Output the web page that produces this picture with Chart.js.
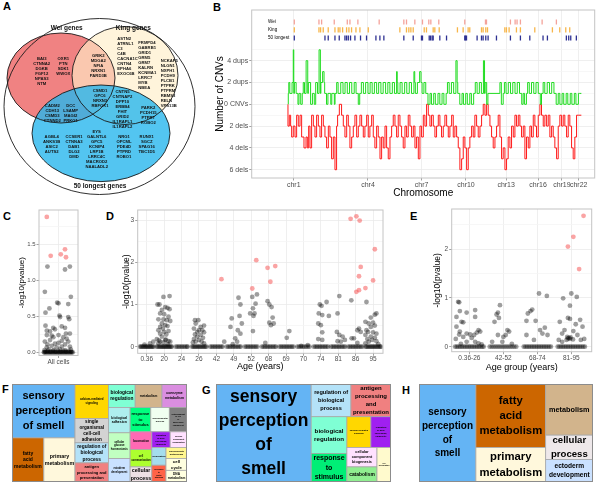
<!DOCTYPE html>
<html>
<head>
<meta charset="utf-8">
<script src="https://cdn.jsdelivr.net/npm/chart.js@4.4.0/dist/chart.umd.min.js"></script>
<style>
  body { margin: 0; width: 600px; height: 483px; background: #fff; position: relative; overflow: hidden;
         font-family: "Liberation Sans", Arial, sans-serif; }
  canvas { position: absolute; }
  .lab { position: absolute; font-weight: bold; font-size: 11px; line-height: 11px; color: #000; }
</style>
</head>
<body>
<div class="lab" style="left:3px;top:1px">A</div>
<div class="lab" style="left:213px;top:2px">B</div>
<div class="lab" style="left:3px;top:211px">C</div>
<div class="lab" style="left:106px;top:211px">D</div>
<div class="lab" style="left:410px;top:211px">E</div>
<div class="lab" style="left:2px;top:384px">F</div>
<div class="lab" style="left:202px;top:385px">G</div>
<div class="lab" style="left:402px;top:385px">H</div>

<canvas id="cA" width="200" height="196" style="left:0;top:0"></canvas>
<canvas id="cB" width="386" height="199" style="left:214px;top:0"></canvas>
<canvas id="cC" width="65" height="162" style="left:17px;top:205px"></canvas>
<canvas id="cD" width="265" height="167" style="left:122px;top:205px"></canvas>
<canvas id="cE" width="163" height="169" style="left:433px;top:204px"></canvas>
<canvas id="cF" width="175" height="98" style="left:12px;top:384px"></canvas>
<canvas id="cG" width="175" height="98" style="left:216px;top:384px"></canvas>
<canvas id="cH" width="174" height="98" style="left:419px;top:384px"></canvas>

<script>
// ===== DATA: VENN (A) =====
const vennTitles = ["Wei genes", "King genes", "50 longest genes"];
const weiOnly = [["BAI3", "CTNNA2", "DGKB", "FGF12", "NPAS3", "NTM"], ["OXR1", "PTN", "SDK1", "WWOX"]];
const weiKing = [["GRIK2", "MDGA2", "NFIA", "NRXN1", "PARD3B"]];
const kingOnly = [
  ["ASTN2", "ATRNL1", "C3", "C4B", "CACNA1C", "CNTN4", "EPHA6", "EXOC6B"],
  ["FRMPD4", "GABRB1", "GRID1", "GRM5", "GRM7", "KALRN", "KCNMA1", "LRRC7", "MYB", "NBEA"],
  ["NCKAP5", "NLGN1", "NXPH1", "PCDH9", "PLCB1", "PTPRK", "PTPRM", "RBMS3", "RELN", "VPS13B"]
];
const allThree = [["CSMD1", "GPC6", "NRXN3", "RBFOX1"]];
const weiLong = [["CADM2", "CDH13", "CSMD3", "CTNND2"], ["DCC", "LSAMP", "MAGI2", "PRKG1"]];
const kingLong = [["CNTN5", "CNTNAP2", "DPP10", "ERBB4", "FHIT", "GRID2", "IL1RAPL1", "IL1RAPL2"], ["PARK2", "PCDH15", "PTPRT", "ROBO2"]];
const longOnly = [
  ["AGBL4", "ANKS1B", "ASIC2", "AUTS2"],
  ["CCSER1", "CTNNA3", "DAB1", "DLG2", "DMD"],
  ["EYS", "GALNTL6", "GPC5", "KCNIP4", "LRP1B", "LRRC4C", "MACROD2", "NAALADL2"],
  ["NRG1", "OPCML", "PDE4D", "PTPRD", "ROBO1"],
  ["RUNX1", "SGCZ", "SPAG16", "TBC1D5"]
];

// ===== DATA: CNV PROFILE (B), genome position in Mb =====
const chrLabels = ["chr1", "chr4", "chr7", "chr10", "chr13", "chr16", "chr19", "chr22"];
const chrTickPos = [57, 785, 1312, 1747, 2141, 2454, 2688, 2853];
const cnvTickVals = [-6, -4, -2, 0, 2, 4];
const cnvTickLabels = ["6 dels", "4 dels", "2 dels", "0 CNVs", "2 dups", "4 dups"];
const geneSets = ["Wei", "King", "50 longest"];
const weiPos = [62, 304, 330, 454, 582, 608, 686, 895, 1137, 1163, 1245, 1320, 1382, 1402, 1480, 1735, 1938, 1948, 2183, 2229, 2248, 2281, 2494, 2634];
const kingPos = [62, 304, 320, 346, 395, 461, 493, 510, 536, 575, 598, 624, 667, 706, 788, 1098, 1163, 1186, 1206, 1229, 1337, 1359, 1425, 1441, 1484,
  1663, 1719, 1768, 1784, 1899, 1915, 1941, 1958, 2128, 2144, 2170, 2242, 2281, 2422, 2595, 2667, 2726, 2765];
const longPos = [62, 363, 395, 461, 503, 559, 575, 592, 614, 657, 712, 771, 863, 902, 941, 1137, 1229, 1310, 1320, 1386, 1399, 1415, 1425, 1490, 1556,
  1735, 1742, 1752, 1856, 1899, 1915, 1941, 1964, 2046, 2183, 2281, 2373, 2503, 2546, 2732, 2755, 2775, 2830];
const dupSteps = [[3,0],[8,1],[18,2],[40,1],[52,2],[57,5],[63,1],[80,2],[98,1],[108,0],[125,1],[140,0],[150,1],[162,2],[178,1],[194,4],[200,1],
  [222,2],[240,0],[258,1],[272,0],[290,2],[305,1],[318,5],[323,1],[340,2],[354,3],[360,2],[378,1],[392,0],[420,1],[430,0],[455,1],[462,0],[478,1],
  [492,2],[518,1],[540,2],[560,1],[582,2],[604,1],[626,2],[650,1],[668,2],[690,1],[704,0],[720,1],[740,2],[762,1],[785,2],[806,1],[826,2],[848,1],
  [870,2],[890,1],[912,2],[934,1],[958,2],[980,1],[1000,2],[1024,1],[1045,2],[1066,1],[1072,3],[1078,2],[1100,1],[1120,2],[1145,1],[1166,2],[1190,1],
  [1212,2],[1236,1],[1244,3],[1250,2],[1270,1],[1292,2],[1306,3],[1316,2],[1334,1],[1352,2],[1374,1],[1394,0],[1408,1],[1430,0],[1446,1],[1472,0],
  [1490,1],[1512,0],[1530,1],[1552,0],[1565,1],[1582,2],[1604,1],[1626,2],[1648,1],[1660,4],[1666,2],[1686,1],[1708,0],[1722,1],[1744,0],[1760,1],
  [1784,0],[1800,1],[1822,0],[1838,1],[1856,2],[1878,1],[1898,2],[1918,1],[1929,4],[1935,1],[1950,2],[1962,0],[2080,1],[2094,2],[2112,0],[2124,1],
  [2140,2],[2162,1],[2184,2],[2206,1],[2228,2],[2250,1],[2272,2],[2294,1],[2308,0],[2322,1],[2340,0],[2352,1],[2368,2],[2390,1],[2412,2],[2434,1],
  [2456,2],[2476,1],[2488,0],[2504,1],[2520,2],[2544,1],[2566,2],[2588,1],[2610,2],[2632,1],[2652,0],[2668,1],[2690,0],[2706,1],[2730,0],[2746,1],
  [2770,0],[2786,1],[2810,0],[2826,1],[2850,0],[2860,1],[2879,1]];
const delSteps = [[0,0],[13,-2],[26,-1],[36,-2],[52,-3],[69,-2],[85,-3],[101,-1],[118,-2],[134,-1],[157,-3],[177,-4],[190,-3],[203,-4],[216,-2],[232,-4],
  [249,-1],[265,-2],[281,-3],[298,-1],[314,-2],[330,-3],[347,-1],[363,-2],[379,-3],[396,-4],[412,-2],[428,-3],[445,-5],[461,-3],[477,-6],[487,-2],[504,-1],
  [526,0],[543,-1],[559,-2],[576,-3],[592,-1],[608,-2],[625,-4],[641,-3],[657,-2],[674,-1],[690,-3],[706,-2],[723,-1],[739,-2],[755,-3],[772,-2],[788,-1],
  [804,-3],[821,-2],[837,-1],[853,-3],[870,-4],[886,-2],[903,-3],[919,-5],[935,-3],[952,-4],[968,-2],[984,-4],[1001,-5],[1017,-3],[1033,-2],[1050,-1],
  [1066,-2],[1082,-3],[1099,-1],[1115,-2],[1131,-3],[1148,-4],[1164,-2],[1180,-3],[1197,-1],[1213,-2],[1230,-3],[1246,-2],[1262,-4],[1279,-3],[1295,-5],
  [1311,-2],[1328,-3],[1344,-1],[1360,-2],[1377,0],[1393,-1],[1409,-2],[1426,-1],[1442,-2],[1458,-3],[1475,-2],[1491,-1],[1507,-2],[1524,-3],[1540,-2],
  [1557,-1],[1573,-2],[1589,-3],[1606,-2],[1622,-1],[1638,-3],[1655,-2],[1671,-3],[1687,-4],[1704,-6],[1720,-5],[1736,-3],[1753,-4],[1769,-6],[1785,-4],
  [1802,-3],[1818,-2],[1834,-3],[1851,-1],[1867,-2],[1884,-3],[1900,-2],[1916,-1],[1933,0],[1949,-1],[1965,0],[1982,-1],[1998,-2],[2014,-3],[2031,-4],
  [2047,-3],[2063,-2],[2080,-1],[2096,-3],[2112,-5],[2129,-4],[2145,-6],[2161,-5],[2178,-3],[2194,-4],[2211,-2],[2227,-3],[2243,-1],[2260,-2],[2276,-1],
  [2292,-2],[2309,-3],[2325,-2],[2341,-5],[2358,-3],[2374,-4],[2390,-2],[2407,-3],[2423,-1],[2439,-2],[2456,-3],[2472,-1],[2488,0],[2505,-1],[2521,-2],
  [2538,-1],[2554,-2],[2570,-1],[2587,-3],[2603,-2],[2619,-3],[2636,-4],[2652,-5],[2668,-2],[2685,-1],[2701,-2],[2717,-1],[2734,-2],[2750,-3],[2766,-1],
  [2783,-2],[2799,-4],[2815,-5],[2832,-3],[2848,-1],[2879,-1]];

// ===== DATA: ENRICHMENT SCATTERS (C, D, E) =====
// points are [jitter, -log10(p)]; D/E grey points are [group, jitter, -log10(p)]
const cGrey = [[-0.34,1.19],[0.2,1.15],[0.35,1.19],[-0.42,0.84],[-0.04,0.69],[0,0.68],[0.38,0.77],[0.3,0.67],[-0.28,0.61],[-0.4,0.55],[0.03,0.51],
  [0.05,0.49],[0.3,0.49],[0.33,0.46],[-0.4,0.37],[0.1,0.36],[0.2,0.34],[-0.16,0.34],[-0.11,0.32],[-0.36,0.3],[-0.26,0.29],[0.23,0.26],[0.35,0.26],
  [-0.36,0.24],[-0.21,0.23],[-0.16,0.21],[0,0.24],[0.15,0.21],[0.25,0.19],[-0.26,0.17],[0.1,0.16],[-0.42,0.15],[-0.11,0.12],[0,0.13],[0.3,0.15],
  [-0.34,0.11],[0.2,0.11],[-0.21,0.09],[0.1,0.08],[-0.06,0.07],[0.35,0.08],[-0.36,0.07],[-0.43,0.03],[-0.3,0.04],[-0.15,0.03],[0.05,0.04],[0.2,0.03],
  [0.38,0.04],[-0.41,0.01],[-0.33,0.02],[-0.25,0.01],[-0.17,0.02],[-0.09,0.01],[-0.01,0.02],[0.07,0.01],[0.15,0.02],[0.23,0.01],[0.31,0.02],[0.39,0.01]];
const cZeros = [-0.45,-0.43,-0.4,-0.37,-0.34,-0.31,-0.28,-0.25,-0.22,-0.19,-0.16,-0.13,-0.1,-0.07,-0.04,-0.01,0.02,0.05,0.08,0.11,0.14,0.17,0.2,0.23,
  0.26,0.29,0.32,0.35,0.38,0.41,0.44];
const cSig = [[-0.36,1.88],[-0.24,1.34],[0.07,1.36],[0.2,1.43],[0.23,1.32]];

const ageGroups = ["0.36", "20", "24", "26", "42", "49", "52", "68", "69", "70", "74", "81", "86", "95"];
const dGrey = [[0,0.19,0.08],[0,-0.13,0.05],[0,0.38,0.12],
  [1,-0.38,1.0],[1,-0.27,1.0],[1,-0.04,1.18],[1,0.31,1.2],[1,0.06,0.94],[1,0.19,0.92],[1,-0.13,0.87],[1,0.31,0.89],[1,-0.23,0.79],[1,0,0.77],
  [1,0.25,0.71],[1,-0.33,0.65],[1,-0.04,0.65],[1,0.15,0.63],[1,0.35,0.61],[1,-0.13,0.55],[1,0.06,0.51],[1,-0.23,0.47],[1,0.19,0.49],[1,-0.08,0.43],
  [1,-0.33,0.39],[1,0.25,0.37],[1,0,0.35],[1,-0.23,0.31],[1,0.12,0.29],[1,-0.13,0.24],[1,-0.42,0.18],[1,0.06,0.16],[1,0.25,0.13],[1,-0.23,0.12],
  [1,-0.04,0.1],[1,0.35,0.12],[1,-0.33,0.08],[1,-0.3,0.15],[1,0.1,0.17],[1,0.2,0.06],
  [3,-0.23,0.63],[3,-0.04,0.63],[3,0.29,0.5],[3,-0.19,0.55],[3,0.1,0.47],[3,-0.29,0.43],[3,0,0.39],[3,0.19,0.39],[3,-0.1,0.35],[3,0.29,0.34],
  [3,-0.23,0.29],[3,0.1,0.28],[3,-0.1,0.24],[3,0.23,0.21],[3,-0.29,0.18],[3,0,0.16],[3,-0.19,0.12],[3,0.15,0.12],[3,0.29,0.08],[3,-0.35,0.1],
  [4,0.45,0.12],
  [5,0.27,1.16],[5,0.38,1.0],[5,0.33,0.73],[5,-0.12,0.67],[5,0.46,0.55],[5,-0.19,0.47],[5,0.23,0.39],[5,0.38,0.31],[5,0.08,0.2],[5,0.19,0.12],[5,-0.06,0.06],
  [6,0.33,1.24],[6,0.06,1.18],[6,0.25,1.02],[6,0.1,0.91],[6,-0.06,0.79],[6,0.19,0.79],[6,0.13,0.73],[6,0.1,0.37],
  [7,-0.06,1.08],[7,0.04,1.0],[7,0.17,0.94],[7,0.23,0.69],[7,0.04,0.57],[7,0.29,0.55],[7,0.13,0.51],[7,-0.19,0.09],
  [8,0.19,0.37],[8,0.04,0.21],
  [9,0.25,0.04],[9,-0.13,0.02],
  [10,-0.06,1.0],[10,0.04,0.97],[10,0.33,1.06],[10,-0.12,0.79],[10,0.08,0.75],[10,0.46,0.73],[10,-0.15,0.55],[10,0,0.51],[10,0.08,0.34],[10,-0.15,0.18],[10,0.08,0.16],
  [11,0.06,1.2],[11,-0.04,0.79],[11,-0.08,0.35],[11,0.06,0.28],[11,0.25,0.24],[11,0.38,0.16],[11,-0.04,0.13],[11,0.15,0.12],
  [12,-0.25,1.1],[12,0.1,0.39],[12,0.19,0.43],[12,0.29,0.35],[12,-0.23,0.2],[12,-0.1,0.2],[12,0.1,0.09],
  [13,-0.38,1.06],[13,-0.13,0.69],[13,0.1,0.76],[13,0.19,0.79],[13,-0.44,0.59],[13,-0.25,0.55],[13,0,0.57],[13,-0.13,0.47],[13,0.1,0.5],[13,-0.38,0.39],
  [13,-0.29,0.35],[13,0,0.34],[13,0.19,0.31],[13,-0.44,0.28],[13,-0.13,0.24],[13,0.1,0.21],[13,-0.33,0.18],[13,-0.06,0.16],[13,0.19,0.13],[13,-0.25,0.12],
  [13,-0.44,0.08],[13,0.3,0.06]];
const dZeros = [
  [-0.4,-0.33,-0.27,-0.2,-0.14,-0.08,-0.02,0.04,0.1,0.16,0.22,0.28,0.34,0.4],
  [-0.42,-0.35,-0.28,-0.21,-0.15,-0.09,-0.03,0.03,0.09,0.15,0.21,0.27,0.33,0.39,0.44],
  [-0.33,-0.24,-0.15,-0.06,0.03,0.12,0.21,0.3,0.35],
  [-0.4,-0.33,-0.26,-0.19,-0.12,-0.05,0.02,0.09,0.16,0.23,0.3,0.37,0.43],
  [-0.35,-0.26,-0.17,-0.08,0.01,0.1,0.19,0.28,0.36],
  [-0.4,-0.31,-0.22,-0.13,-0.04,0.05,0.14,0.23,0.32,0.4],
  [-0.36,-0.27,-0.18,-0.09,0,0.09,0.18,0.27,0.36],
  [-0.38,-0.29,-0.2,-0.11,-0.02,0.07,0.16,0.25,0.34,0.42],
  [-0.38,-0.29,-0.2,-0.11,-0.02,0.07,0.16,0.25,0.34,0.42],
  [-0.35,-0.25,-0.15,-0.05,0.05,0.15,0.25,0.35],
  [-0.4,-0.31,-0.22,-0.13,-0.04,0.05,0.14,0.23,0.32,0.41],
  [-0.41,-0.32,-0.23,-0.14,-0.05,0.04,0.13,0.22,0.31,0.4],
  [-0.42,-0.33,-0.24,-0.15,-0.06,0.03,0.12,0.21,0.3,0.39],
  [-0.44,-0.37,-0.3,-0.23,-0.16,-0.09,-0.02,0.05,0.12,0.19,0.26,0.33,0.4,0.45]
];
const dSig = [[4,0.29,1.6],[6,0.06,1.38],[6,0.29,2.05],[7,-0.06,1.87],[7,0.38,1.91],[7,0.1,1.54],[12,-0.29,3.03],[12,0.04,3.09],[12,0.23,2.99],
  [12,0.29,1.89],[12,0.19,1.67],[12,0.04,1.3],[12,0.19,1.34],[13,-0.44,1.39],[13,0.1,2.31],[13,0,1.57]];

const ageBins = ["0.36-26", "42-52", "68-74", "81-95"];
const eGrey = [
  [0,-0.33,0.92],[0,-0.3,0.91],[0,-0.28,0.73],[0,-0.08,0.7],[0,0.17,0.75],[0,-0.38,0.61],[0,0.17,0.61],[0,-0.23,0.51],[0,-0.18,0.5],[0,-0.38,0.41],
  [0,-0.28,0.31],[0,0.27,0.34],[0,0.32,0.31],[0,0.22,0.29],[0,-0.08,0.27],[0,-0.3,0.25],[0,0.02,0.25],[0,0.14,0.24],[0,-0.18,0.2],[0,0.07,0.18],
  [0,-0.4,0.16],[0,-0.08,0.1],[0,0.17,0.1],[0,0.27,0.07],[0,-0.25,0.06],[0,0.36,0.05],
  [1,-0.1,0.85],[1,-0.16,0.7],[1,-0.2,0.66],[1,-0.13,0.59],[1,-0.26,0.51],[1,0.12,0.34],[1,0.17,0.31],[1,-0.16,0.24],[1,0,0.2],[1,0.07,0.24],
  [1,-0.33,0.1],[1,-0.03,0.1],[1,0.25,0.06],
  [2,0.05,1.09],[2,0.28,1.04],[2,-0.15,0.76],[2,-0.2,0.73],[2,-0.28,0.68],[2,-0.32,0.53],[2,-0.05,0.53],[2,0.08,0.34],[2,0.22,0.39],[2,0.15,0.27],
  [2,-0.1,0.14],[2,-0.32,0.24],[2,0.3,0.24],
  [3,0,1.09],[3,0.16,1.02],[3,-0.24,0.99],[3,-0.04,0.84],[3,-0.1,0.59],[3,-0.04,0.57],[3,-0.34,0.51],[3,0.33,0.41],[3,0.26,0.55],[3,0.06,0.32],
  [3,0.13,0.46],[3,-0.2,0.34],[3,-0.27,0.27],[3,-0.12,0.2],[3,-0.07,0.18],[3,-0.04,0.16],[3,-0.14,0.14],[3,0.18,0.24],[3,0.28,0.14],[3,-0.37,0.14],
  [3,-0.27,0.1],[3,-0.1,0.17],[3,-0.02,0.19],[3,0.05,0.15],[3,0.38,0.16]];
const eZeros = [
  [-0.42,-0.37,-0.32,-0.27,-0.22,-0.17,-0.12,-0.07,-0.02,0.03,0.08,0.13,0.18,0.23,0.28,0.33,0.38,0.42],
  [-0.4,-0.34,-0.28,-0.22,-0.16,-0.1,-0.04,0.02,0.08,0.14,0.2,0.26,0.32,0.38],
  [-0.4,-0.35,-0.3,-0.25,-0.2,-0.15,-0.1,-0.05,0,0.05,0.1,0.15,0.2,0.25,0.3,0.35,0.4],
  [-0.4,-0.35,-0.3,-0.25,-0.2,-0.15,-0.1,-0.05,0,0.05,0.1,0.15,0.2,0.25,0.3,0.35,0.4]];
const eSig = [[3,0.36,2.68],[3,0.06,2.25],[3,-0.1,2.05],[3,0.23,1.59]];

// ===== DATA: REVIGO TREEMAPS (F, G, H), cells as [x0, y0, x1, y1] in % of the map =====
const fTerms = ["sensory\nperception\nof smell", "fatty\nacid\nmetabolism", "primary\nmetabolism", "calcium-mediated\nsignaling",
  "single\norganismal\ncell-cell\nadhesion", "regulation of\nbiological\nprocess", "antigen\nprocessing and\npresentation", "biological\nregulation",
  "metabolism", "coenzyme\nmetabolism", "biological\nadhesion", "cellular\nglucose\nhomeostasis", "ectoderm\ndevelopment", "response\nto\nstimulus",
  "developmental\nprocess", "establishment\nof cell\nor\nsubcellular\ncomponent", "locomotion", "cell\ncommunication", "cellular\nprocess",
  "regulation\nof gene\nexpression,\nepigenetic", "cellular\ncomponent\norganization", "localization", "response\nto\nbiotic\nstimulus",
  "carbohydrate\nmetabolism", "cell\ncycle", "DNA\nmetabolism"];
const fCells = [[0,0,36,55],[0,55,18.2,100],[18.2,55,36,100],[36,0,55.1,35.2],[36,35.2,55.1,60],[36,60,55.1,80.5],[36,80.5,55.1,100],
  [55.1,0,70.4,23.9],[70.4,0,85.7,23.9],[85.7,0,100,23.9],[55.1,23.9,67.5,49.8],[55.1,49.8,67.5,76.1],[55.1,76.1,67.5,100],
  [67.5,23.9,79.3,48.8],[79.3,23.9,89.9,48.8],[89.9,23.9,100,48.8],[67.5,48.8,79.9,66.9],[67.5,66.9,79.9,84.6],[67.5,84.6,79.9,100],
  [79.9,48.8,90.4,64.8],[90.4,48.8,100,64.8],[79.9,64.8,88,82.9],[79.9,82.9,88,100],[88,64.8,100,76.1],[88,76.1,100,88.1],[88,88.1,100,100]];
const gTerms = ["sensory\nperception\nof\nsmell", "regulation of\nbiological\nprocess", "antigen\nprocessing\nand\npresentation", "biological\nregulation",
  "calcium-mediated\nsignaling", "regulation\nof gene\nexpression,\nepigenetic", "response\nto\nstimulus", "cellular\ncomponent\nbiogenesis", "catabolism",
  "cell\nproliferation"];
const gCells = [[0,0,54.4,100],[54.4,0,77.1,33.4],[77.1,0,100,33.4],[54.4,33.4,74.8,71],[74.8,33.4,88.5,64.8],[88.5,33.4,100,64.8],
  [54.4,71,74.8,100],[74.8,64.8,92,84.6],[74.8,84.6,92,100],[92,64.8,100,100]];
const hTerms = ["sensory\nperception\nof\nsmell", "fatty\nacid\nmetabolism", "primary\nmetabolism", "metabolism", "cellular\nprocess", "ectoderm\ndevelopment"];
const hCells = [[0,0,32.7,100],[32.7,0,72.8,64.8],[32.7,64.8,72.8,100],[72.8,0,100,52.2],[72.8,52.2,100,77.1],[72.8,77.1,100,100]];

// ===== STYLE =====
const FONT = '"Liberation Sans", Arial, Helvetica, sans-serif';
Chart.defaults.font.family = FONT;
Chart.defaults.color = "#4d4d4d";
Chart.defaults.animation = false;
Chart.defaults.events = [];
Chart.defaults.responsive = false;
Chart.defaults.plugins.legend.display = false;
Chart.defaults.plugins.tooltip.enabled = false;

const GREY_PT = "rgba(0,0,0,0.38)";
const RED_PT = "rgba(245,90,90,0.55)";
const fColors = ["#64b4f4", "#cc6600", "#fff8dc", "#ffd700", "#d3d3d3", "#b4e2f8", "#f08080", "#7fffd4", "#d2b48c", "#da8ee0", "#aeeeee", "#c1ffc1",
  "#cae1ff", "#00ff7f", "#f0fff0", "#7f7f7f", "#ff69b4", "#adff2f", "#eee0e5", "#a020f0", "#ffe1ff", "#a4dded", "#ff6347", "#fff68f", "#ffffe0", "#ffffe0"];
const fSizes = [11, 5, 5.3, 2.8, 4.6, 4.8, 4, 4.8, 3.2, 3.4, 3.4, 2.8, 2.6, 4, 2.2, 2, 3, 2.6, 5.3, 2.1, 2.1, 2.4, 2.1, 2.4, 4.4, 3.2];
const gColors = ["#64b4f4", "#b4e2f8", "#f08080", "#7fffd4", "#ffd700", "#a020f0", "#00ee76", "#ffe1ff", "#90ee90", "#fffacd"];
const gSizes = [17.5, 5.6, 6, 6.2, 2.2, 2.2, 7, 3.8, 4.9, 1.8];
const hColors = ["#64b4f4", "#cc6600", "#fff8dc", "#d2b48c", "#eee8ea", "#cae1ff"];
const hSizes = [10, 11.3, 11.3, 7.3, 9.6, 6.6];

// Venn layout in canvas units: ellipses [cx, cy, rx, ry], label spots [x, y, align]
const vennOuter = [99.5, 106.5, 95.5, 88];
const vennWei = [61, 78, 54, 45];
const vennKing = [125, 75.5, 53, 49];
const vennLong = [101, 133.3, 69, 48.3];
const vennGroups = [
  [weiOnly, [[41.7, 59.3, "center"], [63.3, 59.3, "center"]]],
  [weiKing, [[98.3, 56, "center"]]],
  [kingOnly, [[117.3, 39.3, "left"], [138.3, 43.3, "left"], [160.7, 61, "left"]]],
  [allThree, [[100, 90.7, "center"]]],
  [weiLong, [[52.3, 106, "center"], [70.7, 106, "center"]]],
  [kingLong, [[122.5, 91.7, "center"], [148.3, 108.3, "center"]]],
  [longOnly, [[51.7, 137.3, "center"], [74, 137.3, "center"], [96.7, 132.3, "center"], [124, 137.3, "center"], [146.7, 137.3, "center"]]]
];
const vennTitleSpots = [[66.7, 28.3], [133.3, 28.3], [100, 186]];

// ===== PLUGINS =====
const panelBox = {
  id: "panelBox",
  afterDatasetsDraw(chart) {
    const { ctx, chartArea: a } = chart;
    ctx.save();
    ctx.strokeStyle = "#c4c4c4";
    ctx.lineWidth = 1;
    ctx.strokeRect(a.left, a.top, a.right - a.left, a.bottom - a.top);
    ctx.restore();
  }
};

const vennPlugin = {
  id: "venn",
  afterDatasetsDraw(chart) {
    const { ctx, scales: { x, y } } = chart;
    const ell = (e) => {
      const cx = x.getPixelForValue(e[0]), cy = y.getPixelForValue(e[1]);
      const rx = Math.abs(x.getPixelForValue(e[0] + e[2]) - cx), ry = Math.abs(y.getPixelForValue(e[1] + e[3]) - cy);
      ctx.beginPath();
      ctx.ellipse(cx, cy, rx, ry, 0, 0, Math.PI * 2);
    };
    ctx.save();
    ell(vennOuter); ctx.fillStyle = "#fff"; ctx.fill();
    ell(vennWei); ctx.fillStyle = "#f08282"; ctx.fill();
    ell(vennKing); ctx.fillStyle = "rgba(255,238,200,0.65)"; ctx.fill();
    ell(vennLong); ctx.fillStyle = "rgba(40,182,238,0.8)"; ctx.fill();
    ctx.strokeStyle = "#1a1a1a"; ctx.lineWidth = 0.9;
    [vennOuter, vennWei, vennKing, vennLong].forEach(e => { ell(e); ctx.stroke(); });
    ctx.fillStyle = "#111";
    ctx.textBaseline = "middle";
    ctx.font = "bold 4.2px " + FONT;
    vennGroups.forEach(([cols, spots]) => {
      cols.forEach((genes, i) => {
        const [sx, sy, align] = spots[i];
        ctx.textAlign = align;
        genes.forEach((g, j) => ctx.fillText(g, x.getPixelForValue(sx), y.getPixelForValue(sy + j * 5)));
      });
    });
    ctx.font = "bold 6.5px " + FONT;
    ctx.textAlign = "center";
    vennTitles.forEach((t, i) => ctx.fillText(t, x.getPixelForValue(vennTitleSpots[i][0]), y.getPixelForValue(vennTitleSpots[i][1])));
    ctx.restore();
  }
};

const treemapPlugin = {
  id: "treemap",
  afterDatasetsDraw(chart, args, opts) {
    const { ctx, scales: { x, y } } = chart;
    ctx.save();
    opts.cells.forEach((c, i) => {
      const x0 = x.getPixelForValue(c[0]), x1 = x.getPixelForValue(c[2]);
      const y0 = y.getPixelForValue(c[1]), y1 = y.getPixelForValue(c[3]);
      ctx.fillStyle = opts.colors[i];
      ctx.fillRect(x0, y0, x1 - x0, y1 - y0);
      ctx.strokeStyle = "#a8a8a8";
      ctx.lineWidth = 0.8;
      ctx.strokeRect(x0, y0, x1 - x0, y1 - y0);
    });
    ctx.fillStyle = "#000";
    ctx.textAlign = "center";
    ctx.textBaseline = "middle";
    opts.cells.forEach((c, i) => {
      const cx = (x.getPixelForValue(c[0]) + x.getPixelForValue(c[2])) / 2;
      const cy = (y.getPixelForValue(c[1]) + y.getPixelForValue(c[3])) / 2;
      const lines = opts.terms[i].split("\n");
      const s = opts.sizes[i], lh = s * 1.36;
      ctx.font = "bold " + s + "px " + FONT;
      lines.forEach((ln, j) => ctx.fillText(ln, cx, cy + (j - (lines.length - 1) / 2) * lh));
    });
    ctx.strokeStyle = "#8c8c8c";
    ctx.lineWidth = 1;
    const a = chart.chartArea;
    ctx.strokeRect(a.left + 0.5, a.top + 0.5, a.right - a.left - 1, a.bottom - a.top - 1);
    ctx.restore();
  }
};

const rowLabels = {
  id: "rowLabels",
  afterDatasetsDraw(chart, args, opts) {
    const { ctx, scales: { y } } = chart;
    ctx.save();
    ctx.font = "4.6px " + FONT;
    ctx.fillStyle = "#000";
    ctx.textBaseline = "middle";
    ctx.textAlign = "left";
    geneSets.forEach((g, i) => ctx.fillText(g, opts.x, y.getPixelForValue(opts.rows[i])));
    ctx.restore();
  }
};

// ===== HELPERS =====
const setTicks = vals => s => { s.ticks = vals.map(v => ({ value: v })); };
function gridFor(major) {
  return {
    color: c => major.includes(c.tick.value) ? "#ebebeb" : "#f5f5f5",
    tickColor: c => major.includes(c.tick.value) ? "#8a8a8a" : "rgba(0,0,0,0)",
    tickLength: 2.5,
    lineWidth: 0.8
  };
}
function pts(list) { return list.map(p => ({ x: p[0], y: p[1] })); }
function groupPts(list) { return list.map(p => ({ x: p[0] + p[1], y: p[2] })); }
function zeroPts(rows) {
  const out = [];
  rows.forEach((r, g) => r.forEach(dx => out.push({ x: g + dx, y: 0 })));
  return out;
}
function dotSet(data, color) {
  return { data, backgroundColor: color, borderWidth: 0, pointRadius: 2.4 };
}
function hiddenScales() {
  return {
    x: { type: "linear", display: false, min: 0, max: 100 },
    y: { type: "linear", display: false, min: 0, max: 100, reverse: true }
  };
}

// ===== A: VENN =====
new Chart(document.getElementById("cA"), {
  type: "scatter",
  data: { datasets: [] },
  options: {
    layout: { padding: 0 },
    scales: {
      x: { type: "linear", display: false, min: 0, max: 200 },
      y: { type: "linear", display: false, min: 0, max: 196, reverse: true }
    }
  },
  plugins: [vennPlugin]
});

// ===== B: CNV PROFILE =====
const cnvGridVals = [-6, -5, -4, -3, -2, -1, 0, 1, 2, 3, 4, 5];
const geneRowY = [7.55, 6.82, 6.08];
const tickStyle = (color) => ({
  type: "scatter", showLine: false, pointStyle: "line", pointRotation: 90, pointRadius: 2.6,
  borderColor: color, pointBorderColor: color, pointBorderWidth: 1.3, borderWidth: 1.3
});
new Chart(document.getElementById("cB"), {
  type: "line",
  data: {
    datasets: [
      { ...tickStyle("#f4a29a"), data: weiPos.map(x => ({ x, y: geneRowY[0] })) },
      { ...tickStyle("#f7b64a"), data: kingPos.map(x => ({ x, y: geneRowY[1] })) },
      { ...tickStyle("#2e3192"), data: longPos.map(x => ({ x, y: geneRowY[2] })) },
      { data: pts(dupSteps), borderColor: "#1fdc1f", borderWidth: 1, stepped: "after", pointRadius: 0, fill: false },
      { data: pts(delSteps), borderColor: "#ff1a1a", borderWidth: 1, stepped: "after", pointRadius: 0, fill: false }
    ]
  },
  options: {
    layout: { padding: { top: 10, right: 5, left: 0, bottom: 0 } },
    plugins: { rowLabels: { x: 54, rows: geneRowY } },
    scales: {
      x: {
        type: "linear", min: -356, max: 3010,
        afterBuildTicks: setTicks(chrTickPos),
        afterFit: s => { s.height = 21; },
        ticks: { autoSkip: false, maxRotation: 0, padding: 0, font: { size: 7 }, color: "#4d4d4d",
                 callback: (v) => chrLabels[chrTickPos.indexOf(v)] },
        grid: gridFor(chrTickPos),
        border: { display: false },
        title: { display: true, text: "Chromosome", color: "#000", font: { size: 10 }, padding: 0 }
      },
      y: {
        type: "linear", min: -6.76, max: 8.65,
        afterBuildTicks: setTicks(cnvGridVals),
        afterFit: s => { s.width = 37.7; },
        ticks: { autoSkip: false, padding: 1, font: { size: 7 }, color: "#4d4d4d",
                 callback: (v) => { const i = cnvTickVals.indexOf(v); return i < 0 ? "" : cnvTickLabels[i]; } },
        grid: gridFor(cnvTickVals),
        border: { display: false },
        title: { display: true, text: "Number of CNVs", color: "#000", font: { size: 10 }, padding: 0 }
      }
    }
  },
  plugins: [panelBox, rowLabels]
});

// ===== C: ALL CELLS =====
const cMajor = [0, 0.5, 1, 1.5];
new Chart(document.getElementById("cC"), {
  type: "scatter",
  data: { datasets: [dotSet(pts(cSig), RED_PT), dotSet(pts(cGrey).concat(cZeros.map(x => ({ x, y: 0 }))), GREY_PT)] },
  options: {
    layout: { padding: { top: 5, right: 4, left: 0, bottom: 0 } },
    scales: {
      x: {
        type: "linear", min: -0.6, max: 0.6,
        afterBuildTicks: setTicks([0]),
        afterFit: s => { s.height = 11.5; },
        ticks: { padding: 0, font: { size: 6.5 }, color: "#4d4d4d", callback: () => "All cells" },
        grid: gridFor([0]), border: { display: false }
      },
      y: {
        type: "linear", min: -0.044, max: 1.976,
        afterBuildTicks: setTicks([0, 0.25, 0.5, 0.75, 1, 1.25, 1.5, 1.75]),
        afterFit: s => { s.width = 22; },
        ticks: { padding: 1, font: { size: 6 }, color: "#4d4d4d", callback: v => cMajor.includes(v) ? v.toFixed(1) : "" },
        grid: gridFor(cMajor), border: { display: false },
        title: { display: true, text: "-log10(pvalue)", color: "#000", font: { size: 8 }, padding: 0 }
      }
    }
  },
  plugins: [panelBox]
});

// ===== D: BY AGE =====
const ageIdx = ageGroups.map((_, i) => i);
new Chart(document.getElementById("cD"), {
  type: "scatter",
  data: { datasets: [dotSet(groupPts(dSig), RED_PT), dotSet(groupPts(dGrey).concat(zeroPts(dZeros)), GREY_PT)] },
  options: {
    layout: { padding: { top: 5, right: 3.7, left: 0, bottom: 0 } },
    scales: {
      x: {
        type: "linear", min: -0.52, max: 13.57,
        afterBuildTicks: setTicks(ageIdx),
        afterFit: s => { s.height = 18.7; },
        ticks: { autoSkip: false, maxRotation: 0, padding: 0, font: { size: 6.5 }, color: "#4d4d4d", callback: v => ageGroups[v] },
        grid: gridFor(ageIdx), border: { display: false },
        title: { display: true, text: "Age (years)", color: "#000", font: { size: 9 }, padding: 0 }
      },
      y: {
        type: "linear", min: -0.156, max: 3.24,
        afterBuildTicks: setTicks([0, 0.5, 1, 1.5, 2, 2.5, 3]),
        afterFit: s => { s.width = 15.7; },
        ticks: { padding: 1, font: { size: 6.5 }, color: "#4d4d4d", callback: v => Number.isInteger(v) ? String(v) : "" },
        grid: gridFor([0, 1, 2, 3]), border: { display: false },
        title: { display: true, text: "-log10(pvalue)", color: "#000", font: { size: 8.5 }, padding: 0 }
      }
    }
  },
  plugins: [panelBox]
});

// ===== E: BY AGE GROUP =====
const binIdx = ageBins.map((_, i) => i);
new Chart(document.getElementById("cE"), {
  type: "scatter",
  data: { datasets: [dotSet(groupPts(eSig), RED_PT), dotSet(groupPts(eGrey).concat(zeroPts(eZeros)), GREY_PT)] },
  options: {
    layout: { padding: { top: 5, right: 4.3, left: 0, bottom: 0 } },
    scales: {
      x: {
        type: "linear", min: -0.52, max: 3.6,
        afterBuildTicks: setTicks(binIdx),
        afterFit: s => { s.height = 21.3; },
        ticks: { autoSkip: false, maxRotation: 0, padding: 0, font: { size: 6.5 }, color: "#4d4d4d", callback: v => ageBins[v] },
        grid: gridFor(binIdx), border: { display: false },
        title: { display: true, text: "Age group (years)", color: "#000", font: { size: 9 }, padding: 0 }
      },
      y: {
        type: "linear", min: -0.102, max: 2.82,
        afterBuildTicks: setTicks([0, 0.5, 1, 1.5, 2, 2.5]),
        afterFit: s => { s.width = 18.7; },
        ticks: { padding: 1, font: { size: 6.5 }, color: "#4d4d4d", callback: v => Number.isInteger(v) ? String(v) : "" },
        grid: gridFor([0, 1, 2]), border: { display: false },
        title: { display: true, text: "-log10(pvalue)", color: "#000", font: { size: 8.5 }, padding: 0 }
      }
    }
  },
  plugins: [panelBox]
});

// ===== F, G, H: TREEMAPS =====
[["cF", fCells, fTerms, fColors, fSizes], ["cG", gCells, gTerms, gColors, gSizes], ["cH", hCells, hTerms, hColors, hSizes]].forEach(([id, cells, terms, colors, sizes]) => {
  new Chart(document.getElementById(id), {
    type: "scatter",
    data: { datasets: [] },
    options: {
      layout: { padding: 0 },
      plugins: { treemap: { cells, terms, colors, sizes } },
      scales: hiddenScales()
    },
    plugins: [treemapPlugin]
  });
});
</script>
</body>
</html>
